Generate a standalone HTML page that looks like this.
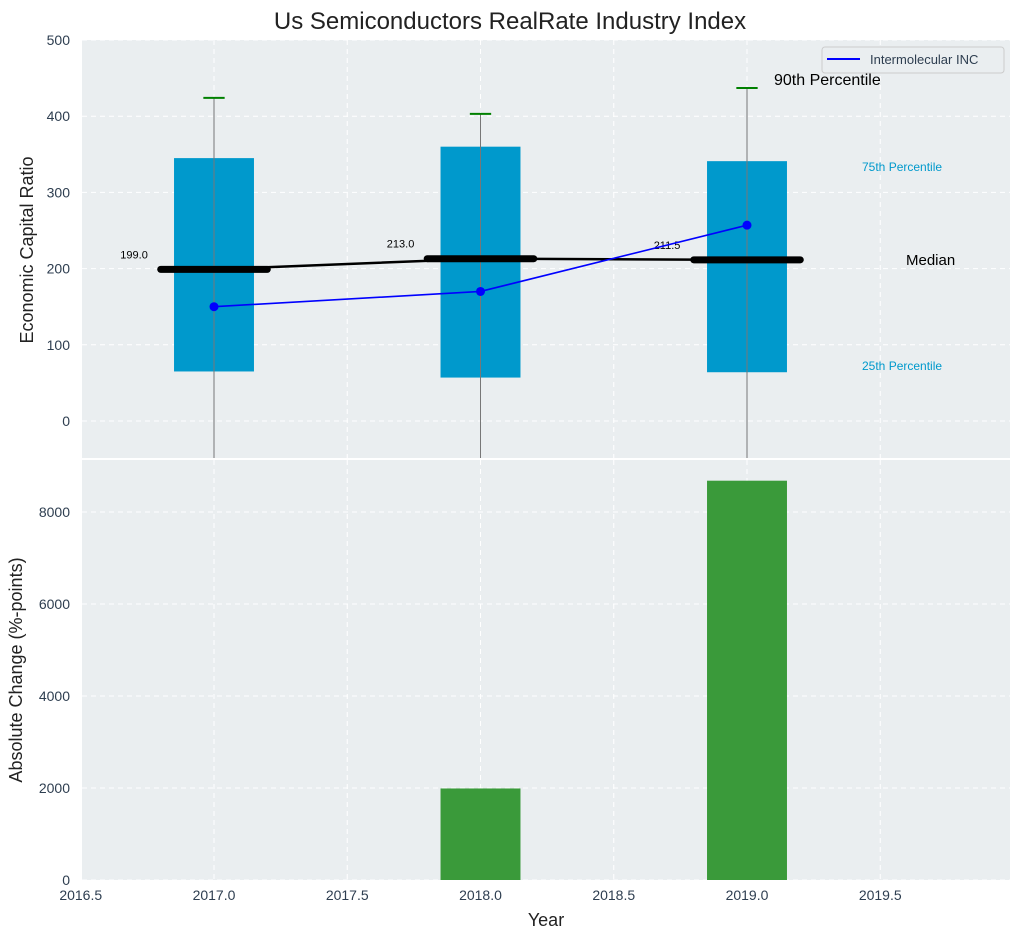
<!DOCTYPE html>
<html><head><meta charset="utf-8"><style>
body{margin:0;background:#fff;font-family:"Liberation Sans",sans-serif}
</style></head><body>
<svg id="c" width="1020" height="940" xmlns="http://www.w3.org/2000/svg" font-family="Liberation Sans, sans-serif"></svg>
<script>
const years=[2017,2018,2019];
const p25=[65,57,64];
const p75=[345,360,341];
const medians=[199,213,211.5];
const p90=[424,403,437];
const companyVals=[150,170,257];
const changeYears=[2018,2019];
const changeVals=[1990,8680];
const xTicks=[2016.5,2017,2017.5,2018,2018.5,2019,2019.5];
const yTopTicks=[0,100,200,300,400,500];
const yBotTicks=[0,2000,4000,6000,8000];

const svg=document.getElementById('c');
const NS='http://www.w3.org/2000/svg';
const L=82,R=1010,T1=40,B1=458,T2=460,B2=880;
const x=v=>214+(v-2017)*266.5;
const yT=v=>421-(v)*(421-40)/500;
const yB=v=>B2-v*(B2-T2)/9130;
function el(t,a,txt){const e=document.createElementNS(NS,t);for(const k in a)e.setAttribute(k,a[k]);if(txt!==undefined)e.textContent=txt;svg.appendChild(e);return e;}

let e;
e=el('rect',{x:L,y:T1,width:R-L,height:B1-T1,fill:'#eaeef0'});

e=el('rect',{x:L,y:T2,width:R-L,height:B2-T2,fill:'#eaeef0'});

xTicks.forEach(t=>{
 el('line',{x1:x(t),x2:x(t),y1:T1,y2:B1,stroke:'#fff','stroke-dasharray':'5,4','stroke-width':1});
 el('line',{x1:x(t),x2:x(t),y1:T2,y2:B2,stroke:'#fff','stroke-dasharray':'5,4','stroke-width':1});
 e=el('text',{x:x(t),y:B2+20,'text-anchor':'middle','font-size':14,fill:'#2e3e50'},t.toFixed(1));
 
});
yTopTicks.forEach(t=>{
 el('line',{x1:L,x2:R,y1:yT(t),y2:yT(t),stroke:'#fff','stroke-dasharray':'5,4'});
 e=el('text',{x:L-12,y:yT(t)+5,'text-anchor':'end','font-size':14,fill:'#2e3e50'},t);
 
});
yBotTicks.forEach(t=>{
 el('line',{x1:L,x2:R,y1:yB(t),y2:yB(t),stroke:'#fff','stroke-dasharray':'5,4'});
 e=el('text',{x:L-12,y:yB(t)+5,'text-anchor':'end','font-size':14,fill:'#2e3e50'},t);
 
});
years.forEach((yr,i)=>{
 e=el('rect',{x:x(yr-0.15),y:yT(p75[i]),width:x(yr+0.15)-x(yr-0.15),height:yT(p25[i])-yT(p75[i]),fill:'#0099cc'});
 
 e=el('line',{x1:x(yr),x2:x(yr),y1:yT(p90[i]),y2:B1,stroke:'#777','stroke-width':1});
 
 e=el('line',{x1:x(yr-0.04),x2:x(yr+0.04),y1:yT(p90[i]),y2:yT(p90[i]),stroke:'green','stroke-width':2});
 
});
e=el('polyline',{points:years.map((yr,i)=>x(yr)+','+yT(medians[i])).join(' '),fill:'none',stroke:'#000','stroke-width':2.5});

years.forEach((yr,i)=>{
 e=el('line',{x1:x(yr-0.2),x2:x(yr+0.2),y1:yT(medians[i]),y2:yT(medians[i]),stroke:'#000','stroke-width':7,'stroke-linecap':'round'});
 
 e=el('text',{x:x(yr-0.3),y:yT(medians[i])-11,'text-anchor':'middle','font-size':11,fill:'#000'},medians[i].toFixed(1));
 
});
e=el('polyline',{points:years.map((yr,i)=>x(yr)+','+yT(companyVals[i])).join(' '),fill:'none',stroke:'blue','stroke-width':1.6});

years.forEach((yr,i)=>{
 e=el('circle',{cx:x(yr),cy:yT(companyVals[i]),r:4.5,fill:'blue'});
 
});
e=el('text',{x:774,y:85,'font-size':16,fill:'#000'},'90th Percentile');
e=el('text',{x:862,y:171,'font-size':12,fill:'#0099cc'},'75th Percentile');
e=el('text',{x:906,y:265,'font-size':15,fill:'#000'},'Median');
e=el('text',{x:862,y:370,'font-size':12,fill:'#0099cc'},'25th Percentile');
e=el('rect',{x:822,y:47,width:182,height:26,rx:3,fill:'#eaeef0',stroke:'#ccc'});
el('line',{x1:827,x2:860,y1:59,y2:59,stroke:'blue','stroke-width':2});
e=el('text',{x:870,y:64,'font-size':13,fill:'#2e3e50'},'Intermolecular INC');
changeYears.forEach((yr,i)=>{
 e=el('rect',{x:x(yr-0.15),y:yB(changeVals[i]),width:x(yr+0.15)-x(yr-0.15),height:B2-yB(changeVals[i]),fill:'#3a9a3a'});
 
});
e=el('text',{x:510,y:29,'text-anchor':'middle','font-size':24,fill:'#222'},'Us Semiconductors RealRate Industry Index');
e=el('text',{x:33,y:250,'text-anchor':'middle','font-size':18,fill:'#222',transform:'rotate(-90 33 250)'},'Economic Capital Ratio');
e=el('text',{x:22,y:670,'text-anchor':'middle','font-size':18,fill:'#222',transform:'rotate(-90 22 670)'},'Absolute Change (%-points)');
e=el('text',{x:546,y:926,'text-anchor':'middle','font-size':18,fill:'#222'},'Year');
</script>
</body></html>
